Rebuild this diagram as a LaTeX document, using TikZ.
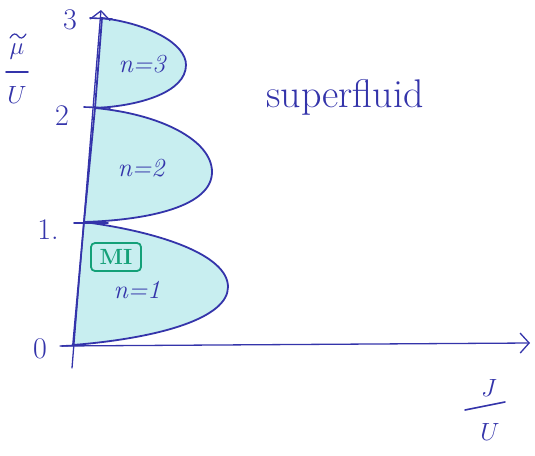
\documentclass[tikz,border=0pt]{standalone}
\usetikzlibrary{arrows.meta}
\definecolor{ink}{RGB}{52,52,170}
\definecolor{shade}{RGB}{200,238,240}
\definecolor{mig}{RGB}{20,160,120}
\begin{document}
\begin{tikzpicture}[x=1pt,y=-1pt,
  axisline/.style={draw=ink,line width=1.3pt,line cap=round},
  lobe/.style={draw=ink,line width=1.8pt,fill=shade},
  tick/.style={draw=ink,line width=1.6pt,line cap=round},
  lbl/.style={text=ink,font=\fontsize{30}{30}\selectfont},
  nlbl/.style={text=ink,font=\fontsize{26}{26}\selectfont\itshape}]
\useasboundingbox (0,0) rectangle (535,455);
\coordinate (A0) at (73,345);
\coordinate (A1) at (84,222);
\coordinate (A2) at (95,108);
\coordinate (A3) at (102,18);
\coordinate (Ytop) at (101,10);
\coordinate (Ybot) at (72,368);
\coordinate (Xl) at (60,346);
\coordinate (Xr) at (530,343);
% lobes
\path[lobe] (A1) .. controls (160,232) and (228,255) .. (228,287) .. controls (228,318) and (160,338) .. (A0) -- cycle;
\path[lobe] (A2) .. controls (160,114) and (212,140) .. (212,172) .. controls (212,206) and (150,220) .. (A1) -- cycle;
\path[lobe] (A3) .. controls (150,24) and (186,44) .. (186,65) .. controls (186,92) and (140,106) .. (A2) -- cycle;
% axes
\draw[axisline,-{Straight Barb[length=9pt,width=20pt,line width=1.3pt]}] (Ybot) -- (Ytop);
\draw[axisline,-{Straight Barb[length=9pt,width=20pt,line width=1.3pt]}] (Xl) -- (Xr);
% ticks
\draw[tick] (90,18) -- (112,19);
\draw[tick] (84,107) -- (110,108);
\draw[tick] (74,223) -- (108,223);
\draw[tick] (62,346) -- (82,345);
% tick labels
\node[lbl] (t3) at (70,20) {3};
\node[lbl] (t2) at (62,116) {2};
\node[lbl] (t1) at (48,230) {1.};
\node[lbl] (t0) at (40,349) {0};
% axis labels
\node[lbl,inner sep=0pt] (ymu) at (17,52) {$\mu$};
\draw[tick,line width=1.2pt] (10,38) .. controls (13,33) and (16,33) .. (18,36) .. controls (20,39) and (23,39) .. (26,34);
\draw[tick] (6,72) -- (28,72);
\node[lbl,inner sep=0pt] (yU) at (17,95) {$U$};
\node[lbl,inner sep=0pt] (xJ) at (489,388) {$J$};
\draw[tick] (465,410) -- (505,402);
\node[lbl,inner sep=0pt] (xU) at (490,432) {$U$};
% labels
\node[text=ink,font=\fontsize{40}{40}\selectfont] (sf) at (345,97) {superfluid};
\node[nlbl] (n3) at (142,64) {n=3};
\node[nlbl] (n2) at (141,168) {n=2};
\node[nlbl] (n1) at (137,290) {n=1};
\node[draw=mig,line width=1.8pt,rounded corners=4pt,text=mig,inner sep=2pt,minimum width=50pt,minimum height=28pt,font=\fontsize{22}{22}\selectfont\bfseries] (mi) at (116,257) {MI};
\end{tikzpicture}
\end{document}
